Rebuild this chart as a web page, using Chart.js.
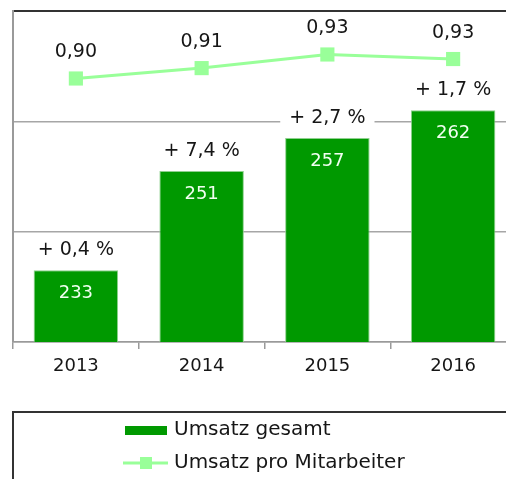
<!DOCTYPE html>
<html>
<head>
<meta charset="utf-8">
<script src="https://cdn.jsdelivr.net/npm/chart.js@4.4.1/dist/chart.umd.min.js"></script>
<style>
  html, body { margin: 0; padding: 0; background: #fff; overflow: hidden; }
  #wrap { width: 506px; height: 479px; overflow: hidden; }
</style>
</head>
<body>
<div id="wrap"><canvas id="chart" width="518" height="479"></canvas></div>
<script>
// Daten
const jahre = ['2013', '2014', '2015', '2016'];
const umsatzGesamt = [233, 251, 257, 262];
const wachstum = [0.4, 7.4, 2.7, 1.7];
const umsatzProMitarbeiter = [0.896, 0.912, 0.933, 0.926];
const yTicks = [220, 240, 260, 280];

const fontFamily = '"DejaVu Sans", Verdana, sans-serif';
const textColor = '#161616';

function deZahl(v, d) {
    return v.toFixed(d).replace('.', ',');
}

// Beschriftungen an Balken und Punkten
const labelPlugin = {
    id: 'valueLabels',
    afterDatasetsDraw(chart) {
        const ctx = chart.ctx;
        const barMeta = chart.getDatasetMeta(0);
        const lineMeta = chart.getDatasetMeta(1);
        ctx.save();
        ctx.textAlign = 'center';
        ctx.textBaseline = 'middle';

        barMeta.data.forEach((bar, i) => {
            ctx.font = '18px ' + fontFamily;
            ctx.fillStyle = '#f0fff0';
            ctx.fillText(String(umsatzGesamt[i]), bar.x, bar.y + 23);

            const txt = '+ ' + deZahl(wachstum[i], 1) + ' %';
            ctx.font = '19px ' + fontFamily;
            const w = ctx.measureText(txt).width;
            ctx.fillStyle = '#ffffff';
            ctx.fillRect(bar.x - w / 2 - 9, bar.y - 20 - 12, w + 18, 24);
            ctx.fillStyle = textColor;
            ctx.fillText(txt, bar.x, bar.y - 20);
        });

        lineMeta.data.forEach((pt, i) => {
            ctx.font = '19px ' + fontFamily;
            ctx.fillStyle = textColor;
            ctx.fillText(deZahl(umsatzProMitarbeiter[i], 2), pt.x, pt.y - 26);
        });
        ctx.restore();
    }
};

// Legende im Kasten unten
const legendPlugin = {
    id: 'boxLegend',
    afterDraw(chart) {
        const ctx = chart.ctx;
        const ds = chart.data.datasets;
        ctx.save();
        ctx.strokeStyle = '#333';
        ctx.lineWidth = 2;
        ctx.strokeRect(13, 412, 700, 200);

        ctx.fillStyle = ds[0].backgroundColor;
        ctx.fillRect(125, 426, 42, 9);

        ctx.strokeStyle = ds[1].borderColor;
        ctx.lineWidth = 3;
        ctx.beginPath();
        ctx.moveTo(123, 463);
        ctx.lineTo(168, 463);
        ctx.stroke();
        ctx.fillStyle = ds[1].pointBackgroundColor;
        ctx.fillRect(140, 457, 12, 12);

        ctx.font = '20px ' + fontFamily;
        ctx.fillStyle = textColor;
        ctx.textAlign = 'left';
        ctx.textBaseline = 'middle';
        ctx.fillText(ds[0].label, 174, 430);
        ctx.fillText(ds[1].label, 174, 463);
        ctx.restore();
    }
};

const chart = new Chart(document.getElementById('chart').getContext('2d'), {
    type: 'bar',
    data: {
        labels: jahre,
        datasets: [
            {
                type: 'bar',
                label: 'Umsatz gesamt',
                data: umsatzGesamt,
                yAxisID: 'y',
                backgroundColor: '#009900',
                borderColor: '#8fd08f',
                borderWidth: { top: 1, left: 1, right: 1, bottom: 0 },
                barPercentage: 0.672,
                categoryPercentage: 1,
                order: 2
            },
            {
                type: 'line',
                label: 'Umsatz pro Mitarbeiter',
                data: umsatzProMitarbeiter,
                yAxisID: 'y1',
                borderColor: '#99ff99',
                borderWidth: 3,
                pointStyle: 'rect',
                pointRadius: 10,
                pointBackgroundColor: '#99ff99',
                pointBorderWidth: 0,
                tension: 0,
                order: 1
            }
        ]
    },
    options: {
        responsive: false,
        animation: false,
        layout: { autoPadding: false, padding: { left: 13, top: 11, right: 2, bottom: 0 } },
        plugins: {
            legend: { display: false },
            tooltip: { enabled: false }
        },
        scales: {
            x: {
                grid: {
                    offset: true,
                    drawOnChartArea: false,
                    drawTicks: true,
                    tickLength: 7,
                    color: '#9a9a9a',
                    lineWidth: 1.5
                },
                border: { color: '#9a9a9a', width: 1.5 },
                ticks: {
                    color: textColor,
                    font: { family: fontFamily, size: 18 },
                    padding: 7,
                    maxRotation: 0
                },
                afterFit(scale) { scale.height = 137; }
            },
            y: {
                min: yTicks[0],
                max: yTicks[yTicks.length - 1],
                afterBuildTicks(scale) {
                    scale.ticks = yTicks.map(v => ({ value: v }));
                },
                ticks: { display: false },
                grid: {
                    drawTicks: false,
                    color: ctx => ctx.tick && ctx.tick.value === 280 ? '#333' : '#a6a6a6',
                    lineWidth: ctx => ctx.tick && ctx.tick.value === 280 ? 2 : 1.5
                },
                border: { color: '#9a9a9a', width: 2 },
                afterFit(scale) { scale.width = 0; }
            },
            y1: {
                display: false,
                min: 0.49,
                max: 1.0
            }
        }
    },
    plugins: [labelPlugin, legendPlugin]
});
</script>
</body>
</html>
